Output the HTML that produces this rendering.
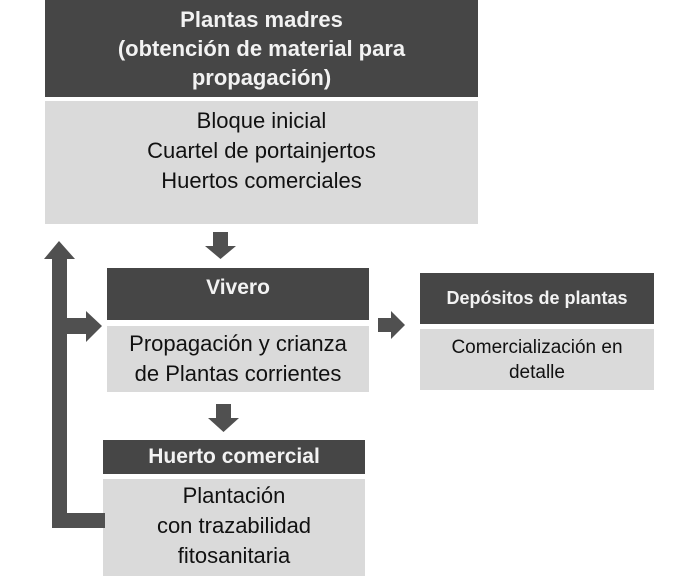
<!DOCTYPE html>
<html><head><meta charset="utf-8"><style>
body{margin:0;width:700px;height:576px;background:#fff;position:relative;overflow:hidden;font-family:"Liberation Sans",sans-serif}
.b{position:absolute;display:flex;flex-direction:column;justify-content:center;align-items:center;text-align:center;white-space:nowrap}
.d{background:#464646;color:#f2f2f2;font-weight:bold}
.l{background:#dadada;color:#111}
</style></head><body>
<div class="b d" style="left:45px;top:0;width:433px;height:97px;font-size:22px;line-height:29px">Plantas madres<br>(obtención de material para<br>propagación)</div>
<div class="b l" style="left:45px;top:101px;width:433px;height:123px;font-size:22px;line-height:30px;justify-content:flex-start;padding-top:5px;box-sizing:border-box">Bloque inicial<br>Cuartel de portainjertos<br>Huertos comerciales</div>

<div class="b d" style="left:107px;top:268px;width:262px;height:52px;font-size:21px;justify-content:flex-start;padding-top:8px;box-sizing:border-box">Vivero</div>
<div class="b l" style="left:107px;top:326px;width:262px;height:66px;font-size:22px;line-height:30px">Propagación y crianza<br>de Plantas corrientes</div>

<div class="b d" style="left:103px;top:440px;width:262px;height:34px;font-size:21px">Huerto comercial</div>
<div class="b l" style="left:103px;top:479px;width:262px;height:97px;font-size:22px;line-height:30px;justify-content:flex-start;padding-top:2px;box-sizing:border-box">Plantación<br>con trazabilidad<br>fitosanitaria</div>

<div class="b d" style="left:420px;top:273px;width:234px;height:51px;font-size:18px">Depósitos de plantas</div>
<div class="b l" style="left:420px;top:329px;width:234px;height:61px;font-size:19px;line-height:25px">Comercialización en<br>detalle</div>

<svg width="700" height="576" style="position:absolute;left:0;top:0">
<g fill="#505050">
<polygon points="213,232 228,232 228,246 236,246 220.5,259 205,246 213,246"/>
<polygon points="216,404 231,404 231,418 239,418 223.5,432 208,418 216,418"/>
<polygon points="378,318 391,318 391,311 405,325 391,339 391,332 378,332"/>
<polygon points="52,528 52,259 44,259 59,241 75,259 67,259 67,513 105,513 105,528"/>
<polygon points="67,318 86,318 86,311 102,326 86,342 86,334 67,334"/>
</g></svg>
</body></html>
